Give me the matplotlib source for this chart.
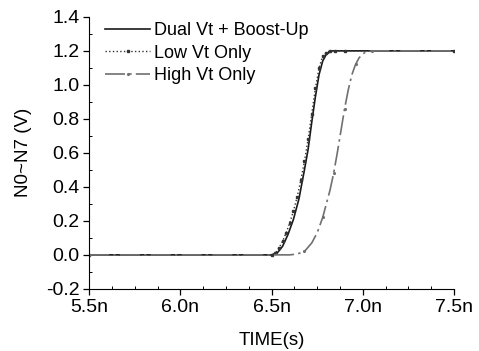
import numpy as np
import matplotlib.pyplot as plt
from matplotlib.ticker import MultipleLocator

plt.rcParams['font.family'] = ['Liberation Sans', 'DejaVu Sans']

# Time in ns, voltage in V
t_dual = [5.5, 6.50, 6.53, 6.56, 6.59, 6.62, 6.65, 6.68, 6.70, 6.72, 6.74, 6.76, 6.78, 6.80, 6.83, 6.87, 7.5]
v_dual = [0.0, 0.0, 0.01, 0.05, 0.12, 0.21, 0.33, 0.50, 0.62, 0.78, 0.93, 1.06, 1.14, 1.18, 1.20, 1.20, 1.20]

t_low = [5.5, 6.50, 6.52, 6.54, 6.56, 6.58, 6.60, 6.62, 6.64, 6.66, 6.68, 6.70, 6.72, 6.74, 6.76, 6.78, 6.80, 6.82, 6.85, 6.90, 7.5]
v_low = [0.0, 0.0, 0.01, 0.04, 0.08, 0.13, 0.19, 0.26, 0.34, 0.44, 0.55, 0.68, 0.83, 0.98, 1.10, 1.17, 1.19, 1.20, 1.20, 1.20, 1.20]

t_high = [5.5, 6.60, 6.64, 6.68, 6.72, 6.75, 6.78, 6.80, 6.82, 6.84, 6.86, 6.88, 6.90, 6.92, 6.94, 6.96, 6.98, 7.01, 7.05, 7.5]
v_high = [0.0, 0.0, 0.005, 0.02, 0.07, 0.13, 0.22, 0.30, 0.38, 0.48, 0.60, 0.73, 0.86, 0.97, 1.06, 1.12, 1.16, 1.19, 1.20, 1.20]

x_ticks = [5.5, 6.0, 6.5, 7.0, 7.5]
x_labels = ["5.5n", "6.0n", "6.5n", "7.0n", "7.5n"]
y_ticks = [-0.2, 0.0, 0.2, 0.4, 0.6, 0.8, 1.0, 1.2, 1.4]

fig = plt.figure(figsize=(4.79, 3.51), dpi=100)
ax = fig.add_axes([0.186, 0.177, 0.762, 0.775])

ax.plot(t_dual, v_dual, color="#1a1a1a", lw=1.2, label="Dual Vt + Boost-Up")
ax.plot(t_low, v_low, color="#333333", lw=1.0, ls=":", marker="s", ms=1.8,
        label="Low Vt Only")
ax.plot(t_high, v_high, color="#707070", lw=1.2, ls=(0, (12, 2.5, 1.5, 2.5)),
        marker=".", ms=2.5, markevery=3, label="High Vt Only")

ax.set_xlim(5.5, 7.5)
ax.set_ylim(-0.2, 1.4)
ax.set_xticks(x_ticks)
ax.set_xticklabels(x_labels)
ax.set_yticks(y_ticks)
ax.set_yticklabels([f"{v:.1f}" for v in y_ticks])
ax.xaxis.set_minor_locator(MultipleLocator(0.125))
ax.yaxis.set_minor_locator(MultipleLocator(0.1))
ax.tick_params(which="major", direction="out", length=4, labelsize=14, width=0.9, pad=3)
ax.tick_params(which="minor", direction="in", length=2.5, width=0.7)

for s in ["top", "right"]:
    ax.spines[s].set_visible(False)

ax.set_xlabel("TIME(s)", fontsize=13.5, labelpad=12)
ax.set_ylabel("N0~N7 (V)", fontsize=13.5, labelpad=10)

ax.legend(loc="upper left", bbox_to_anchor=(0.024, 1.007), frameon=False,
          fontsize=13, handlelength=2.5, handletextpad=0.2, labelspacing=0.3,
          borderaxespad=0)

fig.savefig("out.png", dpi=100)
